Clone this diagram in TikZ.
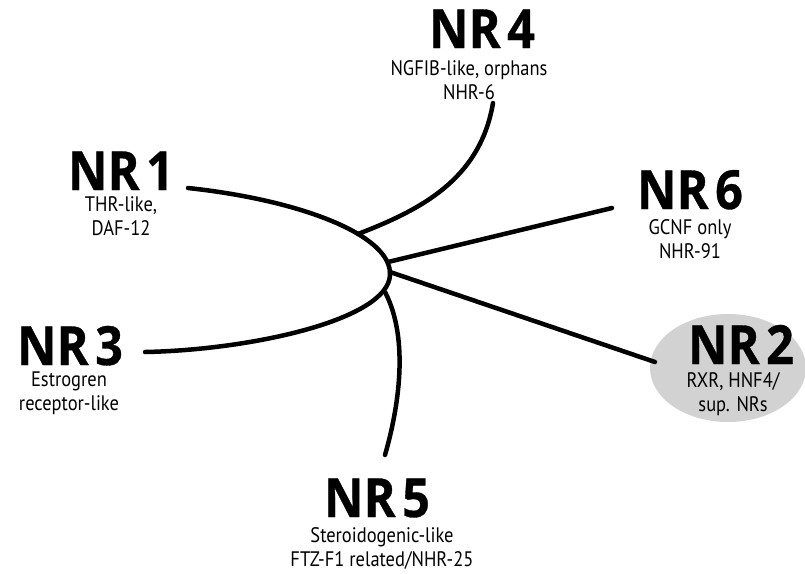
\documentclass[tikz,border=0pt]{standalone}
\usepackage{fontspec}
\setmainfont{PT Sans}[FakeStretch=0.88]
\newfontfamily\nrfont[FakeStretch=0.9, FakeBold=0.6]{Open Sans}
\begin{document}
\begin{tikzpicture}
        [x=1pt, y=-1pt,
        family/.style={font=\nrfont\fontsize{54}{54}\selectfont\bfseries, inner sep=0, anchor=base},
        members/.style={font=\fontsize{21}{24}\selectfont, inner sep=0, anchor=north, align=center},
        branch/.style={line width=4.5pt, black, line cap=round}]

        \useasboundingbox (0,0) rectangle (805,573);

        % gray oval behind NR2
        \fill[gray!35] (728,368) ellipse [x radius=78, y radius=54];

        % Family names
        \node[family] (nr1) at (121,190) {NR\hspace{0.12em}1};
        \node[family] (nr4) at (482,48) {NR\hspace{0.12em}4};
        \node[family] (nr6) at (690,209) {NR\hspace{0.12em}6};
        \node[family] (nr3) at (70,365) {NR\hspace{0.12em}3};
        \node[family] (nr2) at (741,364) {NR\hspace{0.12em}2};
        \node[family] (nr5) at (377,517) {NR\hspace{0.12em}5};

        % Members under each name
        \node[members] (m1) at (121,196) {THR-like,\\DAF-12};
        \node[members] (m4) at (469,60) {NGFIB-like, orphans\\NHR-6};
        \node[members] (m6) at (690,219) {GCNF only\\NHR-91};
        \node[members] (m3) at (69,372) {Estrogren\\receptor-like};
        \node[members] (m2) at (733,372) {RXR, HNF4/\\sup. NRs};
        \node[members] (m5) at (382,527) {Steroidogenic-like\\FTZ-F1 related/NHR-25};

        % branch points and free ends
        \coordinate (end1) at (188,188);
        \coordinate (end3) at (145,352);
        \coordinate (bend) at (390,275);
        \coordinate (hub4) at (358,234);
        \coordinate (end4) at (493,103);
        \coordinate (hub6) at (388,262);
        \coordinate (end6) at (612,208);
        \coordinate (hub2) at (390,272);
        \coordinate (end2) at (655,362);
        \coordinate (hub5) at (385,292);
        \coordinate (end5) at (385,455);

        % the tree
        \draw[branch] (end1) .. controls (300,200) and (392,235) .. (bend)
                             .. controls (388,320) and (250,350) .. (end3);
        \draw[branch] (end4) .. controls (480,180) and (420,210) .. (hub4);
        \draw[branch] (hub6) -- (end6);
        \draw[branch] (hub2) -- (end2);
        \draw[branch] (hub5) .. controls (410,340) and (398,410) .. (end5);

\end{tikzpicture}
\end{document}
